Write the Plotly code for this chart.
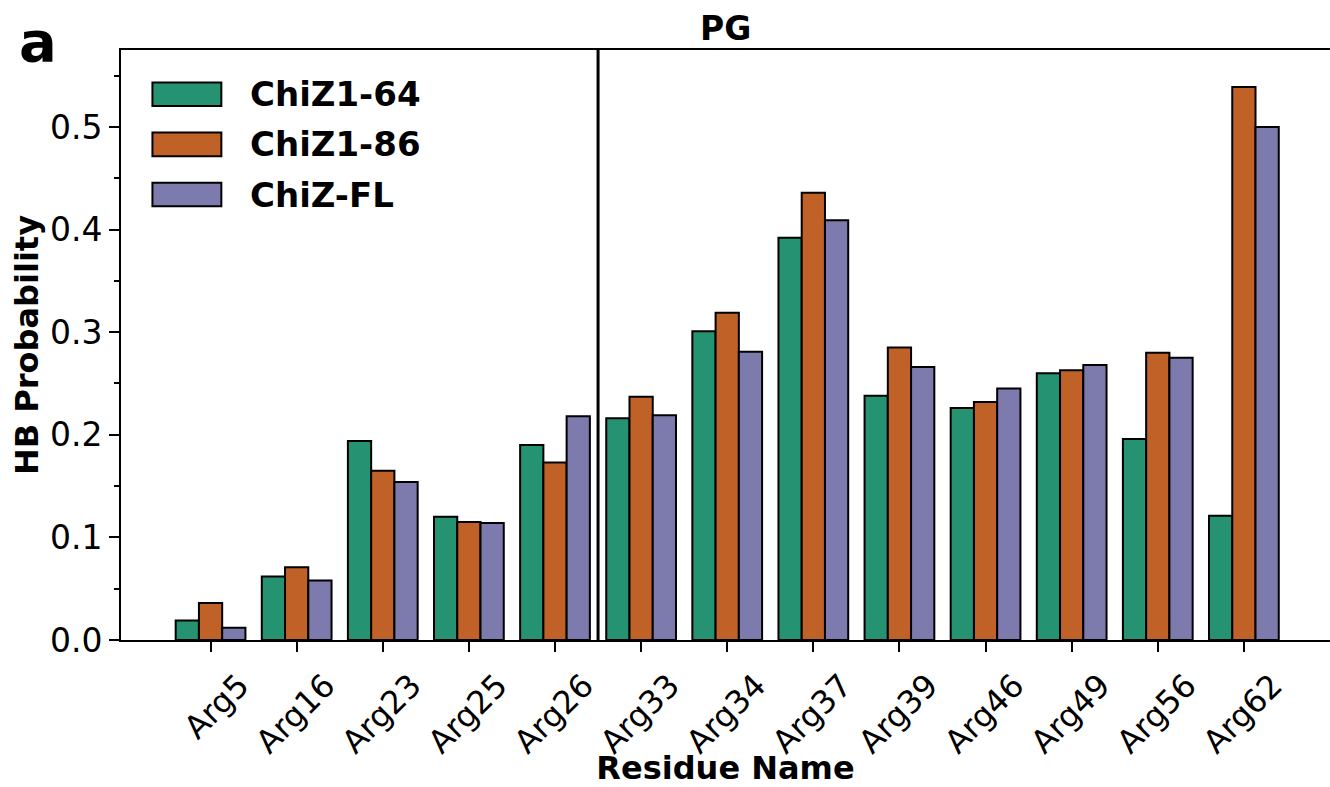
import plotly.graph_objects as go

residues = ["Arg5", "Arg16", "Arg23", "Arg25", "Arg26", "Arg33", "Arg34",
            "Arg37", "Arg39", "Arg46", "Arg49", "Arg56", "Arg62"]
chiz1_64 = [0.019, 0.062, 0.194, 0.120, 0.190, 0.216, 0.301, 0.392, 0.238, 0.226, 0.260, 0.196, 0.121]
chiz1_86 = [0.036, 0.071, 0.165, 0.115, 0.173, 0.237, 0.319, 0.436, 0.285, 0.232, 0.263, 0.280, 0.539]
chiz_fl  = [0.012, 0.058, 0.154, 0.114, 0.218, 0.219, 0.281, 0.409, 0.266, 0.245, 0.268, 0.275, 0.500]
series_names = ["ChiZ1-64", "ChiZ1-86", "ChiZ-FL"]
colors = ["#259272", "#c06228", "#7d7aae"]

FONT = "DejaVu Sans"
fig = go.Figure()
for name, vals, col in zip(series_names, [chiz1_64, chiz1_86, chiz_fl], colors):
    fig.add_trace(go.Bar(x=residues, y=vals, name=name, marker_color=col,
                         marker_line=dict(color="black", width=2), showlegend=False))

# vertical separator between Arg26 and Arg33
fig.add_shape(type="line", xref="x", yref="paper", x0=4.5, x1=4.5, y0=0, y1=1,
              line=dict(color="black", width=3))

# custom legend (large swatches)
leg_y = [0.925, 0.840, 0.755]
for name, col, yy in zip(series_names, colors, leg_y):
    fig.add_shape(type="rect", xref="paper", yref="paper",
                  x0=0.026, x1=0.083, y0=yy - 0.02, y1=yy + 0.02,
                  fillcolor=col, line=dict(color="black", width=2))
    fig.add_annotation(text=f"<b>{name}</b>", xref="paper", yref="paper",
                       x=0.105, y=yy, xanchor="left", yanchor="middle", showarrow=False,
                       font=dict(family=FONT, size=34, color="black"))

fig.add_annotation(text="<b>PG</b>", xref="paper", yref="paper", x=0.5, y=1.0,
                   xanchor="center", yanchor="bottom", yshift=0, showarrow=False,
                   font=dict(family=FONT, size=33, color="black"))
fig.add_annotation(text="<b>a</b>", xref="paper", yref="paper", x=-0.086, y=1.014,
                   xanchor="left", yanchor="middle", showarrow=False,
                   font=dict(family=FONT, size=56, color="black"))

fig.update_layout(
    width=1330, height=787,
    margin=dict(l=121, r=0, t=50, b=147),
    paper_bgcolor="white", plot_bgcolor="white",
    barmode="group", bargap=0.19, bargroupgap=0,
    font=dict(family=FONT, color="black"),
)
fig.update_xaxes(
    range=[-1.04, 13.0], showline=True, linecolor="black", linewidth=2, mirror=True,
    ticks="outside", ticklen=10, tickwidth=2, tickcolor="black", tickangle=-45,
    ticklabelshift=29, ticklabelstandoff=2,
    tickfont=dict(family=FONT, size=32), showgrid=False,
    title=dict(text="<b>Residue Name</b>", font=dict(family=FONT, size=32), standoff=0),
)
fig.update_yaxes(
    range=[0, 0.575], showline=True, linecolor="black", linewidth=2, mirror=False,
    ticks="outside", ticklen=10, tickwidth=2, tickcolor="black",
    tickvals=[0, 0.1, 0.2, 0.3, 0.4, 0.5], ticktext=["0.0", "0.1", "0.2", "0.3", "0.4", "0.5"],
    minor=dict(tickvals=[0.05, 0.15, 0.25, 0.35, 0.45, 0.55], ticks="outside", ticklen=5,
               tickwidth=1.5, tickcolor="black", showgrid=False),
    tickfont=dict(family=FONT, size=33), showgrid=False, zeroline=False,
    title=dict(text="<b>HB Probability</b>", font=dict(family=FONT, size=32), standoff=2),
)

fig.write_html("out.html")
